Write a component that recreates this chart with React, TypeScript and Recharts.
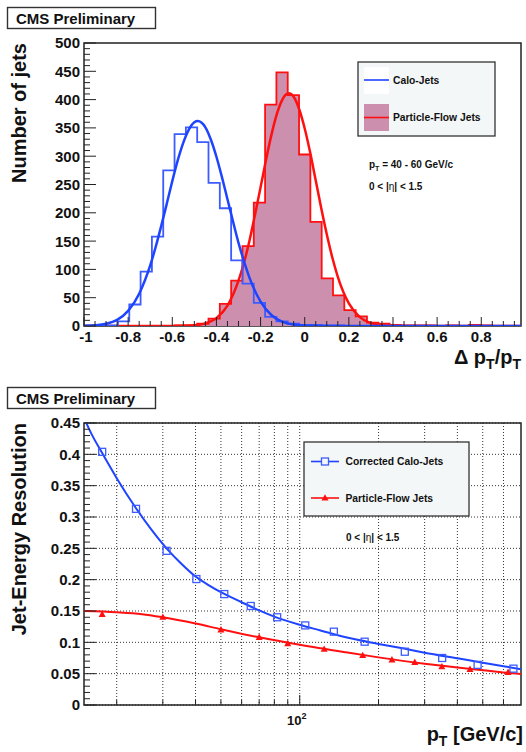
import React from "react";
import {
  ComposedChart,
  Line,
  Area,
  Scatter,
  XAxis,
  YAxis,
  CartesianGrid,
  ReferenceArea,
} from "recharts";

const FONT = "'Liberation Sans', Arial, Helvetica, sans-serif";
const BLUE = "#1f44ff";
const BLUE_HIST = "#3d5cff";
const RED = "#ff1010";
const MAUVE = "#cc8fae";
const FRAME = "#222";
const GAP = 4;

// ---- top panel: Delta pT / pT for pT = 40-60 GeV/c, 39 bins in [-1, 1]
const HIST_LO = -1;
const HIST_HI = 1;
const caloCounts = [
  0, 0, 1, 8, 38, 96, 158, 275, 339, 351, 325, 253, 208, 116, 75, 41, 16, 8, 4, 2,
  2, 1, 1, 0, 0, 0, 0, 0, 0, 0, 0, 0, 0, 0, 0, 0, 0, 0, 0,
];
const pfCounts = [
  0, 0, 0, 0, 0, 0, 0, 0, 1, 1, 4, 13, 39, 80, 141, 218, 391, 448, 408, 303,
  184, 84, 54, 28, 17, 6, 4, 2, 1, 1, 1, 0, 1, 0, 2, 1, 0, 0, 0,
];

// gaussian fits
const caloFitX = [
  -1, -0.95, -0.9, -0.85, -0.8, -0.75, -0.7, -0.675, -0.65, -0.625, -0.6, -0.575, -0.55,
  -0.525, -0.5, -0.485, -0.45, -0.425, -0.4, -0.375, -0.35, -0.325, -0.3, -0.275, -0.25,
  -0.2, -0.15, -0.1, -0.05, 0, 0.05, 0.1, 0.4, 0.7, 1,
];
const caloFitY = [
  0.3, 1.2, 3.9, 10.9, 26.7, 57, 107, 140, 177, 216, 256, 293, 324, 347, 360, 362, 351, 329,
  299, 263, 224, 185, 147, 114, 85, 43, 19, 7.4, 2.5, 0.8, 0.2, 0, 0, 0, 0,
];
const pfFitX = [
  -1, -0.8, -0.6, -0.5, -0.45, -0.4, -0.35, -0.3, -0.275, -0.25, -0.225, -0.2, -0.175,
  -0.15, -0.125, -0.1, -0.072, -0.05, -0.025, 0, 0.025, 0.05, 0.075, 0.1, 0.125, 0.15, 0.2,
  0.25, 0.3, 0.35, 0.4, 0.5, 0.7, 1,
];
const pfFitY = [
  0, 0, 0, 1.3, 4.6, 13.9, 36, 80, 112, 151, 197, 245, 294, 339, 376, 401, 411, 405, 383,
  349, 306, 257, 208, 162, 121, 87, 40, 15.7, 5.3, 1.5, 0.4, 0, 0, 0,
];

const histXMajor = [-1, -0.8, -0.6, -0.4, -0.2, 0, 0.2, 0.4, 0.6, 0.8];
const histYMajor = [0, 50, 100, 150, 200, 250, 300, 350, 400, 450, 500];

// ---- bottom panel: jet-energy resolution vs pT
const caloPt = [17.6, 23.7, 31, 40.3, 51.5, 65, 82, 105, 135, 177, 252, 350, 478, 655];
const caloRes = [0.404, 0.313, 0.246, 0.201, 0.177, 0.158, 0.14, 0.127, 0.117, 0.101, 0.085, 0.075, 0.064, 0.058];
const pfPt = [17.6, 30, 50, 70, 90, 124, 174, 225, 275, 349, 447, 625];
const pfRes = [0.1447, 0.14, 0.12, 0.108, 0.098, 0.089, 0.079, 0.072, 0.068, 0.061, 0.057, 0.052];

const caloCurvePt = [15, 16, 17.6, 20, 23.7, 27, 31, 35, 40, 45, 50, 60, 70, 80, 100, 120, 150, 200, 250, 300, 400, 500, 600, 700];
const caloCurveRes = [
  0.458, 0.433, 0.402, 0.362, 0.314, 0.281, 0.25, 0.227, 0.205, 0.191, 0.18, 0.164, 0.151,
  0.141, 0.128, 0.119, 0.108, 0.0975, 0.09, 0.0835, 0.0745, 0.0675, 0.062, 0.057,
];
const pfCurvePt = [15, 20, 25, 30, 40, 50, 70, 100, 150, 200, 300, 400, 500, 600, 700];
const pfCurveRes = [0.15, 0.148, 0.145, 0.14, 0.13, 0.121, 0.108, 0.096, 0.084, 0.076, 0.066, 0.06, 0.0555, 0.052, 0.0495];

const resXTicks = [20, 30, 40, 50, 60, 70, 80, 90, 100, 200, 300, 400, 500, 600];
const resYMajor = [0, 0.05, 0.1, 0.15, 0.2, 0.25, 0.3, 0.35, 0.4, 0.45];

// ---- helpers
const nBins = caloCounts.length;
const binEdge = (k: number) => HIST_LO + (k * (HIST_HI - HIST_LO)) / nBins;
const stepRows = (counts: number[]) => [
  ...counts.map((c, k) => ({ x: binEdge(k), y: c })),
  { x: HIST_HI, y: counts[counts.length - 1] },
];
const zip = (xs: number[], ys: number[]) => xs.map((x, i) => ({ x, y: ys[i] }));
const range = (lo: number, hi: number, step: number) => {
  const out: number[] = [];
  for (let v = lo; v <= hi + 1e-9; v += step) out.push(Math.round(v * 1e6) / 1e6);
  return out;
};
const isIn = (arr: number[], v: number) => arr.some((m) => Math.abs(m - v) < 1e-9);

const caloHist = stepRows(caloCounts);
const pfHist = stepRows(pfCounts);
const caloFit = zip(caloFitX, caloFitY);
const pfFit = zip(pfFitX, pfFitY);
const caloPoints = zip(caloPt, caloRes);
const pfPoints = zip(pfPt, pfRes);
const caloCurve = zip(caloCurvePt, caloCurveRes);
const pfCurve = zip(pfCurvePt, pfCurveRes);

const labelStyle = { fontFamily: FONT, fontWeight: 700, fill: "#111" };

const yTick = (majors: number[], fmt: (v: number) => string) => (props: any) => {
  const { x, y, payload } = props;
  const major = isIn(majors, payload.value);
  const x0 = x + GAP;
  return (
    <g>
      <line x1={x0} x2={x0 + (major ? 12 : 6)} y1={y} y2={y} stroke={FRAME} strokeWidth={1} />
      {major && (
        <text x={x} y={y} dy="0.36em" textAnchor="end" fontSize={15} {...labelStyle}>
          {fmt(payload.value)}
        </text>
      )}
    </g>
  );
};

const histXTick = (props: any) => {
  const { x, y, payload } = props;
  const major = isIn(histXMajor, payload.value);
  const y0 = y - GAP;
  const v = payload.value;
  // the "-1" label sits just right of the axis corner, clear of the "0" of the y axis
  const lx = v === -1 ? x + 2 : x;
  return (
    <g>
      <line x1={x} x2={x} y1={y0} y2={y0 - (major ? 9 : 5)} stroke={FRAME} strokeWidth={1} />
      {major && (
        <text x={lx} y={y0 + 16} textAnchor="middle" fontSize={15} {...labelStyle}>
          {String(Math.round(v * 10) / 10)}
        </text>
      )}
    </g>
  );
};

const resXTick = (props: any) => {
  const { x, y, payload } = props;
  const major = payload.value === 100;
  const y0 = y - GAP;
  return (
    <g>
      <line x1={x} x2={x} y1={y0} y2={y0 - (major ? 10 : 5)} stroke={FRAME} strokeWidth={1} />
      {major && (
        <text x={x - 3} y={y0 + 20} textAnchor="middle" fontSize={13} {...labelStyle}>
          10
          <tspan dy={-6} fontSize={9}>
            2
          </tspan>
        </text>
      )}
    </g>
  );
};

const SquareMarker = (props: any) => {
  const { cx, cy } = props;
  if (cx == null || cy == null) return null;
  return <rect x={cx - 3.5} y={cy - 3.5} width={7} height={7} fill="none" stroke={BLUE_HIST} strokeWidth={1.3} />;
};

const TriangleMarker = (props: any) => {
  const { cx, cy } = props;
  if (cx == null || cy == null) return null;
  return <path d={`M${cx},${cy - 3.8} L${cx + 3.5},${cy + 2.6} L${cx - 3.5},${cy + 2.6} Z`} fill={RED} />;
};

const CmsBox = ({ top }: { top: number }) => (
  <g>
    <rect x={7.5} y={top + 7.5} width={148} height={21} fill="#fff" stroke="#333" strokeWidth={1.4} />
    <text x={16} y={top + 23.5} fontSize={15} {...labelStyle}>
      CMS Preliminary
    </text>
  </g>
);

const Overlay = () => (
  <svg width={526} height={752} style={{ position: "absolute", left: 0, top: 0, pointerEvents: "none" }}>
    <CmsBox top={0} />
    <CmsBox top={380} />

    {/* axis titles */}
    <text x={26} y={43} transform="rotate(-90 26 43)" textAnchor="end" fontSize={20} {...labelStyle}>
      Number of jets
    </text>
    <text x={26} y={423} transform="rotate(-90 26 423)" textAnchor="end" fontSize={20} {...labelStyle}>
      Jet-Energy Resolution
    </text>
    <text x={521} y={364} textAnchor="end" fontSize={20} {...labelStyle}>
      Δ p<tspan dy={5} fontSize={14}>T</tspan>
      <tspan dy={-5}>/p</tspan>
      <tspan dy={5} fontSize={14}>T</tspan>
    </text>
    <text x={523} y={741} textAnchor="end" fontSize={20} {...labelStyle}>
      p<tspan dy={5} fontSize={14}>T</tspan>
      <tspan dy={-5}> [GeV/c]</tspan>
    </text>

    {/* top legend */}
    <rect x={358} y={62} width={137} height={74} fill="#f4f7f7" stroke="#333" strokeWidth={1.3} />
    <rect x={364} y={67} width={25} height={27} fill="#fff" />
    <line x1={364} x2={389} y1={80} y2={80} stroke={BLUE} strokeWidth={1.6} />
    <text x={393} y={80} dy="0.36em" fontSize={10.3} {...labelStyle}>
      Calo-Jets
    </text>
    <rect x={364} y={104} width={25} height={27} fill={MAUVE} />
    <line x1={364} x2={389} y1={117.5} y2={117.5} stroke={RED} strokeWidth={1.6} />
    <text x={393} y={117.5} dy="0.36em" fontSize={10.3} {...labelStyle}>
      Particle-Flow Jets
    </text>
    <text x={369} y={168} fontSize={10} {...labelStyle}>
      p<tspan dy={3} fontSize={7}>T</tspan>
      <tspan dy={-3}> = 40 - 60 GeV/c</tspan>
    </text>
    <text x={369} y={190} fontSize={10} {...labelStyle}>
      0 &lt; |<tspan fontWeight={400}>η</tspan>| &lt; 1.5
    </text>

    {/* bottom legend */}
    <rect x={304} y={442} width={165} height={74} fill="#f4f7f7" stroke="#333" strokeWidth={1.3} />
    <line x1={311} x2={339} y1={461.5} y2={461.5} stroke={BLUE} strokeWidth={1.6} />
    <rect x={321.5} y={458} width={7} height={7} fill="#f4f7f7" stroke={BLUE_HIST} strokeWidth={1.3} />
    <text x={345.5} y={461.5} dy="0.36em" fontSize={10.3} {...labelStyle}>
      Corrected Calo-Jets
    </text>
    <line x1={311} x2={339} y1={498} y2={498} stroke={RED} strokeWidth={1.6} />
    <path d="M325,494.2 L328.5,500.6 L321.5,500.6 Z" fill={RED} />
    <text x={345.5} y={498} dy="0.36em" fontSize={10.3} {...labelStyle}>
      Particle-Flow Jets
    </text>
    <text x={346} y={541} fontSize={10} {...labelStyle}>
      0 &lt; |<tspan fontWeight={400}>η</tspan>| &lt; 1.5
    </text>
  </svg>
);

const HistPanel = () => (
  <ComposedChart width={526} height={380} margin={{ top: 43, right: 5, bottom: 24, left: 44 }}>
    <XAxis
      type="number"
      dataKey="x"
      domain={[-1, 0.98]}
      allowDataOverflow
      ticks={range(-1, 0.95, 0.05)}
      interval={0}
      tickSize={0}
      tickMargin={GAP}
      axisLine={false}
      tickLine={false}
      tick={histXTick}
      height={30}
    />
    <YAxis
      type="number"
      domain={[0, 500]}
      allowDataOverflow
      ticks={range(0, 500, 10)}
      interval={0}
      tickSize={0}
      tickMargin={GAP}
      axisLine={false}
      tickLine={false}
      tick={yTick(histYMajor, (v) => String(v))}
      width={40}
    />
    <ReferenceArea x1={-1} x2={0.98} y1={0} y2={500} fill="none" stroke={FRAME} strokeWidth={1.5} />
    <Area
      data={pfHist}
      dataKey="y"
      type="stepAfter"
      fill={MAUVE}
      fillOpacity={1}
      stroke={RED}
      strokeWidth={1.8}
      isAnimationActive={false}
      dot={false}
      activeDot={false}
    />
    <Line data={pfFit} dataKey="y" type="monotone" stroke={RED} strokeWidth={2.5} dot={false} isAnimationActive={false} />
    <Line data={caloHist} dataKey="y" type="stepAfter" stroke={BLUE_HIST} strokeWidth={1.8} dot={false} isAnimationActive={false} />
    <Line data={caloFit} dataKey="y" type="monotone" stroke={BLUE} strokeWidth={2.5} dot={false} isAnimationActive={false} />
  </ComposedChart>
);

const ResPanel = () => (
  <ComposedChart width={526} height={372} margin={{ top: 43, right: 5, bottom: 17, left: 44 }}>
    <CartesianGrid
      horizontalValues={resYMajor}
      verticalValues={resXTicks}
      stroke="#333"
      strokeDasharray="1 2"
    />
    <XAxis
      type="number"
      dataKey="x"
      scale="log"
      domain={[15, 700]}
      allowDataOverflow
      ticks={resXTicks}
      interval={0}
      tickSize={0}
      tickMargin={GAP}
      axisLine={false}
      tickLine={false}
      tick={resXTick}
      height={30}
    />
    <YAxis
      type="number"
      domain={[0, 0.45]}
      allowDataOverflow
      ticks={range(0, 0.45, 0.01)}
      interval={0}
      tickSize={0}
      tickMargin={GAP}
      axisLine={false}
      tickLine={false}
      tick={yTick(resYMajor, (v) => String(Math.round(v * 100) / 100))}
      width={40}
    />
    <ReferenceArea x1={15} x2={700} y1={0} y2={0.45} fill="none" stroke={FRAME} strokeWidth={1.5} />
    <Line data={caloCurve} dataKey="y" type="monotone" stroke={BLUE} strokeWidth={2} dot={false} isAnimationActive={false} />
    <Line data={pfCurve} dataKey="y" type="monotone" stroke={RED} strokeWidth={2} dot={false} isAnimationActive={false} />
    <Scatter data={caloPoints} dataKey="y" shape={SquareMarker} isAnimationActive={false} />
    <Scatter data={pfPoints} dataKey="y" shape={TriangleMarker} isAnimationActive={false} />
  </ComposedChart>
);

export default function App() {
  return (
    <div style={{ position: "absolute", left: 0, top: 0, width: 526, height: 752, background: "#fff", fontFamily: FONT }}>
      <div style={{ position: "absolute", left: 0, top: 0 }}>
        <HistPanel />
      </div>
      <div style={{ position: "absolute", left: 0, top: 380 }}>
        <ResPanel />
      </div>
      <Overlay />
    </div>
  );
}
